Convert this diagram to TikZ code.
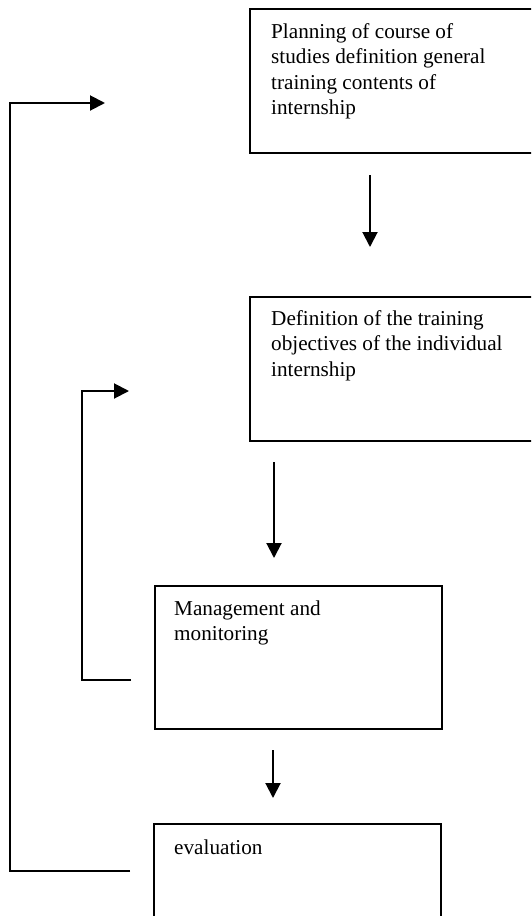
\documentclass[tikz,border=0pt]{standalone}
\usepackage{fontspec}
\setmainfont{Liberation Serif}
\usetikzlibrary{arrows.meta,calc}
\newcommand{\boxlines}[1]{\begin{tabular}[t]{@{}l@{}}#1\end{tabular}}
\begin{document}
\begin{tikzpicture}[x=1pt,y=-1pt,
  box/.style={draw, line width=2pt, anchor=north west, inner sep=0pt},
  lbl/.style={anchor=base west, inner sep=0pt, font=\fontsize{21.2}{25.6}\selectfont},
  conn/.style={line width=2pt, line join=miter, -{Triangle[length=15pt,width=15pt]}},
]
\useasboundingbox (0,0) rectangle (531,916);
\begin{scope}
\clip (0,0) rectangle (531,916);
\node[box, minimum width=300pt, minimum height=144pt] (b1) at (249,8) {};
\node[box, minimum width=300pt, minimum height=144pt] (b2) at (249,296) {};
\node[box, minimum width=287pt, minimum height=143pt] (b3) at (154,585) {};
\node[box, minimum width=287pt, minimum height=143pt] (b4) at (153,823) {};
\end{scope}
\node[lbl] (t1) at ($(b1.north west)+(22,30)$) {\boxlines{Planning of course of\\studies definition general\\training contents of\\internship}};
\node[lbl] (t2) at ($(b2.north west)+(22,29)$) {\boxlines{Definition of the training\\objectives of the individual\\internship}};
\node[lbl] (t3) at ($(b3.north west)+(20,30)$) {\boxlines{Management and\\monitoring}};
\node[lbl] (t4) at ($(b4.north west)+(21,31)$) {\boxlines{evaluation}};
% downward arrows
\coordinate (a1s) at (370,175); \coordinate (a1e) at (370,247);
\coordinate (a2s) at (274,462); \coordinate (a2e) at (274,558);
\coordinate (a3s) at (273,750); \coordinate (a3e) at (273,798);
\draw[conn] (a1s) -- (a1e);
\draw[conn] (a2s) -- (a2e);
\draw[conn] (a3s) -- (a3e);
% outer feedback loop
\coordinate (o1) at (130,871); \coordinate (o2) at (10,871);
\coordinate (o3) at (10,103); \coordinate (o4) at (105,103);
\draw[conn] (o1) -- (o2) -- (o3) -- (o4);
% inner feedback loop
\coordinate (i1) at (131,680); \coordinate (i2) at (82,680);
\coordinate (i3) at (82,391); \coordinate (i4) at (129,391);
\draw[conn] (i1) -- (i2) -- (i3) -- (i4);
\end{tikzpicture}
\end{document}
